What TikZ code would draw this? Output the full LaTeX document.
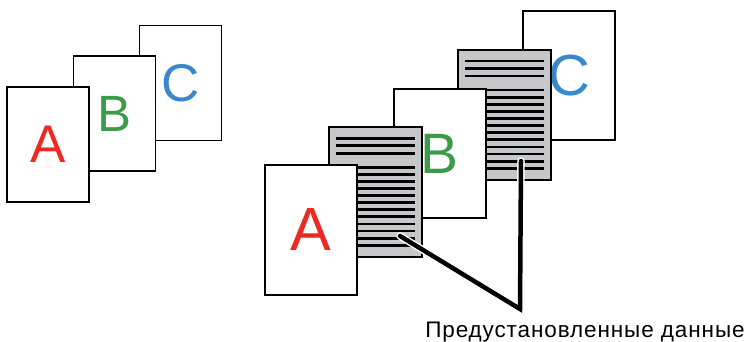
\documentclass[tikz,border=0pt]{standalone}
\usepackage{fontspec}
\setmainfont{Liberation Sans}
\definecolor{lred}{RGB}{237,41,36}
\definecolor{lgreen}{RGB}{58,155,72}
\definecolor{lblue}{RGB}{58,136,204}
\definecolor{pgray}{RGB}{198,199,201}
\begin{document}
\begin{tikzpicture}[x=1pt,y=-1pt,
  smallpage/.style={draw=black,line width=1.8pt,fill=white,minimum width=82pt,minimum height=115pt,inner sep=0pt},
  bigpage/.style={draw=black,line width=1.8pt,fill=white,minimum width=92pt,minimum height=130pt,inner sep=0pt},
  graypage/.style={draw=black,line width=1.8pt,fill=pgray,minimum width=93pt,minimum height=130pt,inner sep=0pt},
  txtline/.style={line width=2.8pt,black},
  leader/.style={line width=4.5pt,black,line cap=round,line join=miter},
  halo/.style={line width=7.5pt,white,line cap=round,line join=miter}]
\useasboundingbox (0,0) rectangle (746,342);
% left group
\node[smallpage,text=lblue,font=\fontsize{53}{53}\selectfont] (lc) at (180.5,83) {C};
\node[smallpage,text=lgreen,font=\fontsize{51}{51}\selectfont] (lb) at (114.5,113.5) {B};
\node[smallpage,text=lred,font=\fontsize{53}{53}\selectfont] (la) at (48,144.5) {A};
% right group
\node[bigpage,minimum height=129pt,text=lblue,font=\fontsize{58}{58}\selectfont] (rc) at (569,75.5) {C};
\node[graypage] (g2) at (504.5,115) {};
\foreach \o in {12,19.5,27} \draw[txtline] ([xshift=8pt,yshift=-\o pt]g2.north west) -- ([xshift=-8pt,yshift=-\o pt]g2.north east);
\foreach \k in {0,...,11} \draw[txtline] ([xshift=8pt,yshift=-41pt-7.1pt*\k]g2.north west) -- ([xshift=-8pt,yshift=-41pt-7.1pt*\k]g2.north east);
\node[bigpage,minimum height=129pt,text=lgreen,font=\fontsize{57}{57}\selectfont] (rb) at (440,153.5) {B};
\node[graypage] (g1) at (375.5,192) {};
\foreach \o in {12,19.5,27} \draw[txtline] ([xshift=8pt,yshift=-\o pt]g1.north west) -- ([xshift=-8pt,yshift=-\o pt]g1.north east);
\foreach \k in {0,...,11} \draw[txtline] ([xshift=8pt,yshift=-41pt-7.1pt*\k]g1.north west) -- ([xshift=-8pt,yshift=-41pt-7.1pt*\k]g1.north east);
\node[bigpage,text=lred,font=\fontsize{61}{61}\selectfont] (ra) at (311,230) {A};
% leader lines
\coordinate (s1) at ([xshift=24.5pt,yshift=-44pt]g1.center);
\coordinate (v) at (520,309);
\coordinate (s2) at ([xshift=16.5pt,yshift=-46pt]g2.center);
\draw[halo] (s1) -- (v) -- (s2);
\draw[leader] (s1) -- (v) -- (s2);
\node[anchor=base,font=\fontsize{22.5}{22.5}\selectfont\addfontfeature{LetterSpace=4},inner sep=0pt] (lbl) at (585,337) {Предустановленные данные};
\end{tikzpicture}
\end{document}
